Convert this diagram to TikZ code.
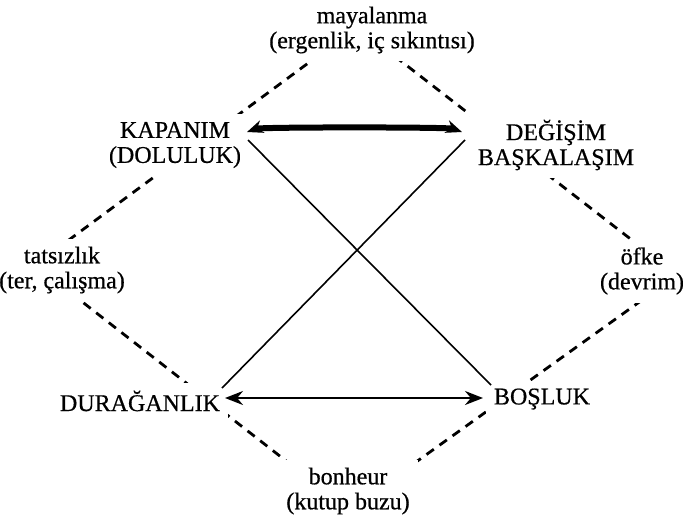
\documentclass[tikz,border=0pt]{standalone}
\usepackage{fontspec}
\setmainfont{Liberation Serif}[FakeBold=0.6]
\usetikzlibrary{arrows.meta}
\tikzset{
  lbl/.style={fill=white, inner sep=4pt, align=center, font=\fontsize{12}{12.5}\selectfont},
  edge/.style={line width=1.4pt, dash pattern=on 4.5pt off 3.5pt},
  cross/.style={line width=0.8pt},
  pair/.style={line width=1pt, {Stealth[length=9pt,width=7pt]}-{Stealth[length=9pt,width=7pt]}},
  heavy/.style={line width=3pt, {Stealth[length=8pt,width=6.5pt]}-{Stealth[length=8pt,width=6.5pt]}}
}
\begin{document}
\begin{tikzpicture}[x=0.5pt,y=-0.5pt]
    \useasboundingbox (0,0) rectangle (683,520);
    \coordinate (top) at (357,27);
    \coordinate (right) at (677,275);
    \coordinate (bottom) at (349,510);
    \coordinate (left) at (35,265);
    \draw[edge] (top) -- (right) -- (bottom) -- (left) -- cycle;
    \node[lbl] (may) at (372,30) {mayalanma\\(ergenlik, iç sıkıntısı)};
    \node[lbl] (kap) at (175,145) {KAPANIM\\(DOLULUK)};
    \node[lbl] (deg) at (556,145) {DEĞİŞİM\\BAŞKALAŞIM};
    \node[lbl] (tat) at (62,270) {tatsızlık\\(ter, çalışma)};
    \node[lbl] (ofke) at (642,271) {öfke\\(devrim)};
    \node[lbl] (dur) at (140,401) {DURAĞANLIK};
    \node[lbl] (bos) at (542,399) {BOŞLUK};
    \node[lbl] (bon) at (348,491) {bonheur\\(kutup buzu)};
    \draw[heavy] ([shift={(72,-13)}]kap.center) .. controls +(14,-5) and +(-14,-5) .. ([shift={(-94,-13)}]deg.center);
    \draw[cross] ([shift={(73,-5)}]kap.center) -- ([shift={(-51,-14)}]bos.center);
    \draw[cross] ([shift={(-91,-5)}]deg.center) -- ([shift={(82,-13)}]dur.center);
    \draw[pair] ([shift={(85,-3)}]dur.center) -- ([shift={(-59,-1)}]bos.center);
\end{tikzpicture}
\end{document}
